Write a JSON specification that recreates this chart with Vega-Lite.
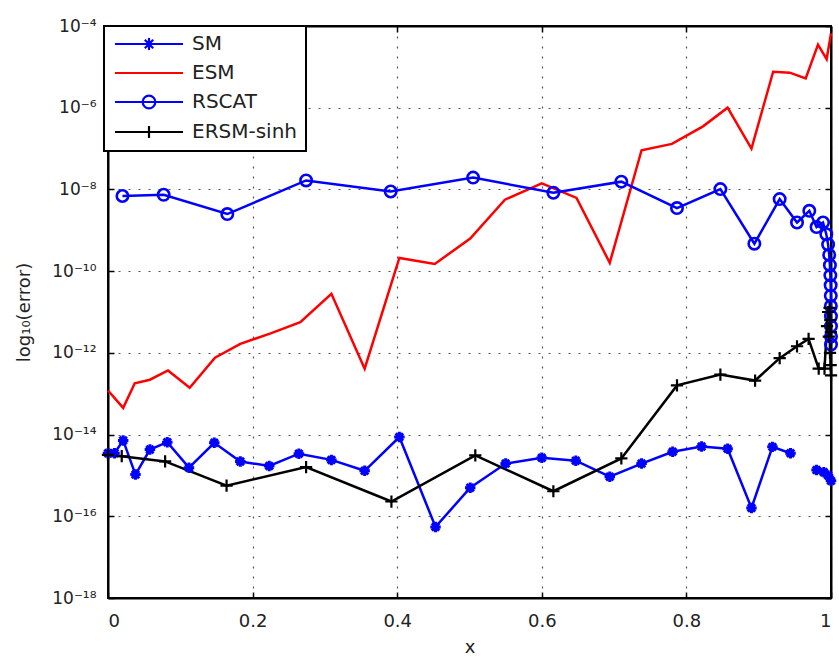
{
  "$schema": "https://vega.github.io/schema/vega-lite/v6.json",
  "width": 723,
  "height": 572,
  "autosize": {"type": "none"},
  "padding": {"left": 108, "top": 26, "right": 8, "bottom": 59},
  "background": "white",
  "data": {
    "values": [
      {"s": "SM", "x": 0.0, "err": 3.5e-15},
      {"s": "SM", "x": 0.009, "err": 3.5e-15},
      {"s": "SM", "x": 0.021, "err": 7.2e-15},
      {"s": "SM", "x": 0.038, "err": 1.05e-15},
      {"s": "SM", "x": 0.058, "err": 4.3e-15},
      {"s": "SM", "x": 0.082, "err": 6.5e-15},
      {"s": "SM", "x": 0.112, "err": 1.55e-15},
      {"s": "SM", "x": 0.147, "err": 6.3e-15},
      {"s": "SM", "x": 0.183, "err": 2.2e-15},
      {"s": "SM", "x": 0.223, "err": 1.7e-15},
      {"s": "SM", "x": 0.264, "err": 3.4e-15},
      {"s": "SM", "x": 0.309, "err": 2.4e-15},
      {"s": "SM", "x": 0.355, "err": 1.3e-15},
      {"s": "SM", "x": 0.403, "err": 8.7e-15},
      {"s": "SM", "x": 0.453, "err": 5.5e-17},
      {"s": "SM", "x": 0.501, "err": 5.0e-16},
      {"s": "SM", "x": 0.55, "err": 1.95e-15},
      {"s": "SM", "x": 0.6, "err": 2.7e-15},
      {"s": "SM", "x": 0.647, "err": 2.3e-15},
      {"s": "SM", "x": 0.694, "err": 9.3e-16},
      {"s": "SM", "x": 0.738, "err": 1.95e-15},
      {"s": "SM", "x": 0.781, "err": 3.8e-15},
      {"s": "SM", "x": 0.821, "err": 5.1e-15},
      {"s": "SM", "x": 0.857, "err": 4.5e-15},
      {"s": "SM", "x": 0.89, "err": 1.6e-16},
      {"s": "SM", "x": 0.919, "err": 5.0e-15},
      {"s": "SM", "x": 0.944, "err": 3.5e-15},
      {"s": "SM", "x": 0.962, "err": null},
      {"s": "SM", "x": 0.98, "err": 1.35e-15},
      {"s": "SM", "x": 0.99, "err": 1.2e-15},
      {"s": "SM", "x": 0.996, "err": 1.0e-15},
      {"s": "SM", "x": 1.0, "err": 7.4e-16},

      {"s": "ESM", "x": 0.0, "err": 1.2e-13},
      {"s": "ESM", "x": 0.021, "err": 4.5e-14},
      {"s": "ESM", "x": 0.037, "err": 1.8e-13},
      {"s": "ESM", "x": 0.058, "err": 2.2e-13},
      {"s": "ESM", "x": 0.083, "err": 3.7e-13},
      {"s": "ESM", "x": 0.113, "err": 1.4e-13},
      {"s": "ESM", "x": 0.148, "err": 7.6e-13},
      {"s": "ESM", "x": 0.183, "err": 1.66e-12},
      {"s": "ESM", "x": 0.225, "err": 3.0e-12},
      {"s": "ESM", "x": 0.266, "err": 5.6e-12},
      {"s": "ESM", "x": 0.309, "err": 2.8e-11},
      {"s": "ESM", "x": 0.355, "err": 4.1e-13},
      {"s": "ESM", "x": 0.403, "err": 2.1e-10},
      {"s": "ESM", "x": 0.452, "err": 1.5e-10},
      {"s": "ESM", "x": 0.501, "err": 6.3e-10},
      {"s": "ESM", "x": 0.549, "err": 5.6e-9},
      {"s": "ESM", "x": 0.6, "err": 1.4e-8},
      {"s": "ESM", "x": 0.648, "err": 6.2e-9},
      {"s": "ESM", "x": 0.694, "err": 1.6e-10},
      {"s": "ESM", "x": 0.738, "err": 9.1e-8},
      {"s": "ESM", "x": 0.78, "err": 1.3e-7},
      {"s": "ESM", "x": 0.823, "err": 3.5e-7},
      {"s": "ESM", "x": 0.857, "err": 1.0e-6},
      {"s": "ESM", "x": 0.89, "err": 1.0e-7},
      {"s": "ESM", "x": 0.92, "err": 7.6e-6},
      {"s": "ESM", "x": 0.943, "err": 7.2e-6},
      {"s": "ESM", "x": 0.965, "err": 5.2e-6},
      {"s": "ESM", "x": 0.982, "err": 3.5e-5},
      {"s": "ESM", "x": 0.994, "err": 1.55e-5},
      {"s": "ESM", "x": 1.0, "err": 6.6e-5},

      {"s": "RSCAT", "x": 0.02, "err": 6.9e-9},
      {"s": "RSCAT", "x": 0.077, "err": 7.4e-9},
      {"s": "RSCAT", "x": 0.165, "err": 2.5e-9},
      {"s": "RSCAT", "x": 0.274, "err": 1.66e-8},
      {"s": "RSCAT", "x": 0.391, "err": 8.9e-9},
      {"s": "RSCAT", "x": 0.505, "err": 1.95e-8},
      {"s": "RSCAT", "x": 0.616, "err": 8.3e-9},
      {"s": "RSCAT", "x": 0.71, "err": 1.55e-8},
      {"s": "RSCAT", "x": 0.787, "err": 3.5e-9},
      {"s": "RSCAT", "x": 0.847, "err": 1.02e-8},
      {"s": "RSCAT", "x": 0.894, "err": 4.7e-10},
      {"s": "RSCAT", "x": 0.929, "err": 5.8e-9},
      {"s": "RSCAT", "x": 0.953, "err": 1.55e-9},
      {"s": "RSCAT", "x": 0.97, "err": 3.0e-9},
      {"s": "RSCAT", "x": 0.98, "err": 1.2e-9},
      {"s": "RSCAT", "x": 0.989, "err": 1.55e-9},
      {"s": "RSCAT", "x": 0.9935, "err": 8.0e-10},
      {"s": "RSCAT", "x": 0.996, "err": 4.5e-10},
      {"s": "RSCAT", "x": 0.9975, "err": 2.5e-10},
      {"s": "RSCAT", "x": 0.9985, "err": 1.4e-10},
      {"s": "RSCAT", "x": 0.9991, "err": 7.9e-11},
      {"s": "RSCAT", "x": 0.9995, "err": 4.5e-11},
      {"s": "RSCAT", "x": 0.9997, "err": 2.5e-11},
      {"s": "RSCAT", "x": 0.9998, "err": 1.4e-11},
      {"s": "RSCAT", "x": 0.9999, "err": 7.9e-12},
      {"s": "RSCAT", "x": 0.99995, "err": 4.5e-12},
      {"s": "RSCAT", "x": 0.99998, "err": 2.5e-12},
      {"s": "RSCAT", "x": 1.0, "err": 1.6e-12},

      {"s": "ERSM-sinh", "x": 0.0, "err": 3.2e-15},
      {"s": "ERSM-sinh", "x": 0.019, "err": 2.95e-15},
      {"s": "ERSM-sinh", "x": 0.079, "err": 2.2e-15},
      {"s": "ERSM-sinh", "x": 0.164, "err": 5.6e-16},
      {"s": "ERSM-sinh", "x": 0.274, "err": 1.6e-15},
      {"s": "ERSM-sinh", "x": 0.392, "err": 2.3e-16},
      {"s": "ERSM-sinh", "x": 0.508, "err": 3.1e-15},
      {"s": "ERSM-sinh", "x": 0.616, "err": 4.1e-16},
      {"s": "ERSM-sinh", "x": 0.71, "err": 2.6e-15},
      {"s": "ERSM-sinh", "x": 0.787, "err": 1.6e-13},
      {"s": "ERSM-sinh", "x": 0.847, "err": 2.95e-13},
      {"s": "ERSM-sinh", "x": 0.895, "err": 2.1e-13},
      {"s": "ERSM-sinh", "x": 0.929, "err": 7.4e-13},
      {"s": "ERSM-sinh", "x": 0.953, "err": 1.45e-12},
      {"s": "ERSM-sinh", "x": 0.969, "err": 2.2e-12},
      {"s": "ERSM-sinh", "x": 0.983, "err": 4.1e-13},
      {"s": "ERSM-sinh", "x": 0.991, "err": 4.1e-13},
      {"s": "ERSM-sinh", "x": 0.9945, "err": 4.5e-12},
      {"s": "ERSM-sinh", "x": 0.996, "err": 1.0e-11},
      {"s": "ERSM-sinh", "x": 0.997, "err": 2.5e-12},
      {"s": "ERSM-sinh", "x": 0.998, "err": 1.26e-11},
      {"s": "ERSM-sinh", "x": 0.9986, "err": 1.0e-12},
      {"s": "ERSM-sinh", "x": 0.9991, "err": 6.3e-12},
      {"s": "ERSM-sinh", "x": 0.9995, "err": 5.0e-13},
      {"s": "ERSM-sinh", "x": 0.9998, "err": 3.2e-12},
      {"s": "ERSM-sinh", "x": 1.0, "err": 2.8e-13}
    ]
  },
  "config": {
    "font": "DejaVu Sans",
    "view": {"stroke": "#000", "strokeWidth": 2},
    "axis": {
      "domainColor": "#000",
      "domainWidth": 2,
      "tickColor": "#000",
      "tickWidth": 1.5,
      "labelColor": "#222",
      "titleColor": "#222",
      "labelFont": "DejaVu Sans",
      "titleFont": "DejaVu Sans",
      "titleFontWeight": "normal",
      "gridColor": "#555",
      "gridDash": [2, 8],
      "gridWidth": 1.2,
      "gridOpacity": 1
    }
  },
  "resolve": {"axis": {"x": "independent", "y": "independent"}},
  "layer": [
    {
      "mark": {"type": "line", "strokeWidth": 2.5, "invalid": "break-paths-filter-domains"},
      "encoding": {
        "x": {
          "field": "x", "type": "quantitative",
          "scale": {"domain": [0, 1], "nice": false},
          "axis": {
            "orient": "bottom", "title": "x", "values": [0, 0.2, 0.4, 0.6, 0.8, 1],
            "format": "~g", "labelFontSize": 18, "titleFontSize": 18,
            "tickSize": -6, "labelPadding": 20, "titlePadding": 8, "grid": true
          }
        },
        "y": {
          "field": "err", "type": "quantitative",
          "scale": {"type": "log", "domain": [1e-18, 1e-4], "nice": false},
          "axis": {
            "orient": "left", "title": "log₁₀(error)",
            "values": [1e-18, 1e-16, 1e-14, 1e-12, 1e-10, 1e-8, 1e-6, 1e-4],
            "labelExpr": "'10⁻' + (abs(round(log(datum.value)/LN10)) >= 10 ? '¹' : '') + ['⁰','¹','²','³','⁴','⁵','⁶','⁷','⁸','⁹'][abs(round(log(datum.value)/LN10)) % 10]",
            "labelFontSize": 17, "titleFontSize": 18,
            "tickSize": -6, "labelPadding": 18, "titlePadding": 18, "grid": true
          }
        },
        "color": {
          "field": "s", "type": "nominal",
          "scale": {"domain": ["SM", "ESM", "RSCAT", "ERSM-sinh"], "range": ["#0000ff", "#ff0000", "#0000ff", "#000000"]},
          "legend": {
            "orient": "none", "legendX": -4, "legendY": 0,
            "title": null,
            "labelFont": "DejaVu Sans", "labelFontSize": 20, "labelColor": "#222",
            "labelOffset": 33,
            "symbolSize": 144,
            "symbolOffset": 27,
            "symbolStrokeWidth": 2,
            "padding": 8,
            "rowPadding": 8,
            "fillColor": "white",
            "strokeColor": "#000",
            "cornerRadius": 0,
            "encode": {
              "legend": {"update": {"strokeWidth": {"value": 2}}},
              "symbols": {
                "update": {
                  "shape": {"signal": "datum.value === 'SM' ? 'M-5.67,0H5.67M-1,0H1M0,-1V1M-0.7,-0.7L0.7,0.7M-0.7,0.7L0.7,-0.7' : datum.value === 'RSCAT' ? 'M-5.67,0H5.67M-1.05,0A1.05,1.05 0 1,0 1.05,0A1.05,1.05 0 1,0 -1.05,0' : datum.value === 'ERSM-sinh' ? 'M-5.67,0H5.67M0,-1V1' : 'M-5.67,0H5.67'"},
                  "fill": {"value": "transparent"},
                  "stroke": {"scale": "color", "field": "value"},
                  "strokeWidth": {"value": 2.2},
                  "opacity": {"value": 1}
                }
              }
            }
          }
        }
      }
    },
    {
      "transform": [{"filter": "datum.s !== 'ESM'"}],
      "mark": {"type": "point", "filled": false, "opacity": 1},
      "encoding": {
        "x": {
          "field": "x", "type": "quantitative",
          "axis": {"orient": "top", "title": null, "labels": false, "grid": false, "values": [0, 0.2, 0.4, 0.6, 0.8, 1], "tickSize": -6}
        },
        "y": {
          "field": "err", "type": "quantitative",
          "axis": {"orient": "right", "title": null, "labels": false, "grid": false, "values": [1e-18, 1e-16, 1e-14, 1e-12, 1e-10, 1e-8, 1e-6, 1e-4], "tickSize": -6}
        },
        "color": {"field": "s", "type": "nominal"},
        "shape": {
          "field": "s", "type": "nominal",
          "scale": {
            "domain": ["SM", "RSCAT", "ERSM-sinh"],
            "range": [
              "M-1,0H1M0,-1V1M-0.7,-0.7L0.7,0.7M-0.7,0.7L0.7,-0.7",
              "circle",
              "M-1,0H1M0,-1V1"
            ]
          },
          "legend": null
        },
        "size": {
          "field": "s", "type": "nominal",
          "scale": {"domain": ["SM", "RSCAT", "ERSM-sinh"], "range": [110, 150, 170]},
          "legend": null
        },
        "strokeWidth": {
          "field": "s", "type": "nominal",
          "scale": {"domain": ["SM", "RSCAT", "ERSM-sinh"], "range": [3, 2.2, 1.6]},
          "legend": null
        }
      }
    }
  ]
}
